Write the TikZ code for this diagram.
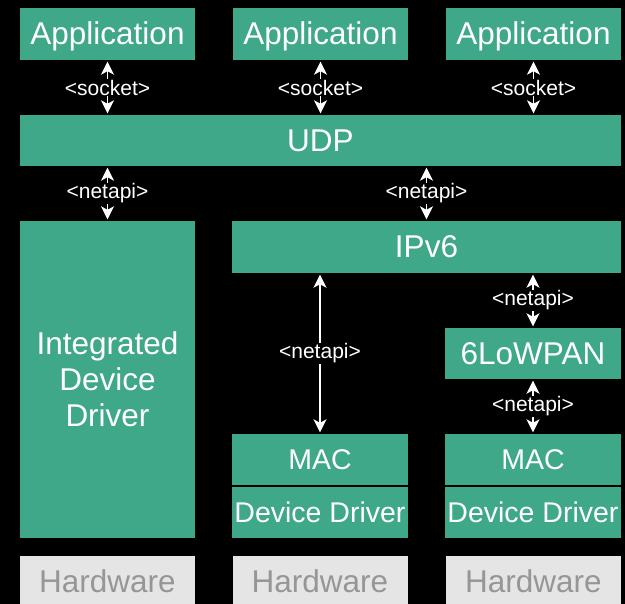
\documentclass[tikz,border=0pt]{standalone}
\usepackage{fontspec}
\setmainfont{Liberation Sans}
\usetikzlibrary{arrows.meta}
\definecolor{boxgreen}{RGB}{63,168,136}
\definecolor{hwfill}{RGB}{229,229,229}
\definecolor{hwtext}{RGB}{150,150,150}
\tikzset{
  box/.style={fill=boxgreen, text=white, inner sep=0pt, font=\fontsize{31.5}{37}\selectfont,
    text height=22.5pt, text depth=0.5pt},
  smallbox/.style={box, font=\fontsize{28.5}{34}\selectfont, text height=20.4pt, text depth=0.5pt},
  hwbox/.style={fill=hwfill, text=hwtext, inner sep=0pt, font=\fontsize{31.5}{37}\selectfont,
    text height=22.5pt, text depth=0.5pt, minimum width=175pt, minimum height=52pt},
  link/.style={draw=white, line width=1.5pt, {Stealth[length=13pt,width=13pt,inset=3.5pt]}-{Stealth[length=13pt,width=13pt,inset=3.5pt]},
    shorten <=1.5pt, shorten >=1.5pt},
  lbl/.style={fill=black, text=white, inner sep=1pt, font=\fontsize{21}{24}\selectfont}
}
\begin{document}
\begin{tikzpicture}[x=1pt,y=1pt]
\fill[black] (0,0) rectangle (625,-604);
\useasboundingbox (0,0) rectangle (625,-604);
% Applications
\node[box, minimum width=175pt, minimum height=52pt] (app1) at (107.5,-34) {Application};
\node[box, minimum width=175pt, minimum height=52pt] (app2) at (320.5,-34) {Application};
\node[box, minimum width=175pt, minimum height=52pt] (app3) at (533.5,-34) {Application};
% UDP
\node[box, minimum width=601pt, minimum height=51pt] (udp) at (320.5,-140.5) {UDP};
% Integrated device driver
\node[fill=boxgreen, text=white, inner sep=0pt, font=\fontsize{31.5}{36}\selectfont, minimum width=175pt, minimum height=317pt, align=center] (integ) at (107.5,-379.5) {Integrated\\Device\\Driver};
% IPv6
\node[box, minimum width=389pt, minimum height=52pt] (ipv6) at (426.5,-247) {IPv6};
% 6LoWPAN
\node[box, minimum width=176pt, minimum height=51pt] (lowpan) at (533,-353.5) {6LoWPAN};
% MAC + device drivers
\node[smallbox, minimum width=176pt, minimum height=51pt] (mac1) at (320,-459.5) {MAC};
\node[smallbox, minimum width=176pt, minimum height=51pt] (dd1) at (320,-512.5) {Device Driver};
\node[smallbox, minimum width=176pt, minimum height=51pt] (mac2) at (533,-459.5) {MAC};
\node[smallbox, minimum width=176pt, minimum height=51pt] (dd2) at (533,-512.5) {Device Driver};
% Hardware
\node[hwbox] (hw1) at (107.5,-582) {Hardware};
\node[hwbox] (hw2) at (320,-582) {Hardware};
\node[hwbox] (hw3) at (533.5,-582) {Hardware};
% Connectors
\draw[link] (app1.south) -- node[lbl]{<socket>} (app1.south |- udp.north);
\draw[link] (app2.south) -- node[lbl]{<socket>} (app2.south |- udp.north);
\draw[link] (app3.south) -- node[lbl]{<socket>} (app3.south |- udp.north);
\draw[link] (udp.south -| integ.north) -- node[lbl]{<netapi>} (integ.north);
\draw[link] (udp.south -| ipv6.north) -- node[lbl]{<netapi>} (ipv6.north);
\draw[link] (ipv6.south -| mac1.north) -- node[lbl]{<netapi>} (mac1.north);
\draw[link] (ipv6.south -| lowpan.north) -- node[lbl]{<netapi>} (lowpan.north);
\draw[link] (lowpan.south) -- node[lbl]{<netapi>} (mac2.north);
\end{tikzpicture}
\end{document}
